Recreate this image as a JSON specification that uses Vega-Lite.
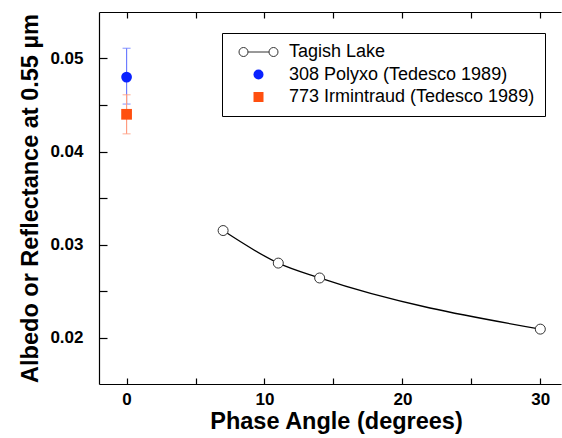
{
  "$schema": "https://vega.github.io/schema/vega-lite/v6.json",
  "autosize": "none",
  "width": 462,
  "height": 372,
  "padding": {"left": 99, "top": 12, "right": 1, "bottom": 54},
  "background": "white",
  "config": {
    "view": {"stroke": null},
    "font": "Liberation Sans",
    "axis": {
      "domainColor": "black",
      "domainWidth": 1.2,
      "tickColor": "black",
      "tickWidth": 1.2,
      "grid": false,
      "labelFont": "Liberation Sans",
      "labelFontWeight": "bold",
      "labelFontSize": 17,
      "labelColor": "black",
      "titleFont": "Liberation Sans",
      "titleFontWeight": "bold",
      "titleFontSize": 23.5,
      "titleColor": "black"
    },
    "legend": {"symbolOpacity": 1}
  },
  "datasets": {
    "tagish": [
      {"phase": 7, "albedo": 0.0315},
      {"phase": 11, "albedo": 0.028},
      {"phase": 14, "albedo": 0.0264},
      {"phase": 30, "albedo": 0.0209}
    ],
    "asteroids": [
      {"series": "308 Polyxo (Tedesco 1989)", "phase": 0, "albedo": 0.048, "lo": 0.0451, "hi": 0.0511},
      {"series": "773 Irmintraud (Tedesco 1989)", "phase": 0, "albedo": 0.044, "lo": 0.0419, "hi": 0.0461}
    ]
  },
  "resolve": {"axis": {"x": "independent", "y": "independent"}},
  "layer": [
    {
      "data": {"name": "tagish"},
      "mark": {"type": "line", "color": "black", "strokeWidth": 1.3, "interpolate": "monotone"},
      "encoding": {
        "x": {
          "field": "phase", "type": "quantitative",
          "scale": {"domain": [-2, 31.5], "nice": false, "zero": false},
          "axis": {
            "orient": "bottom",
            "title": "Phase Angle (degrees)",
            "values": [0, 5, 10, 15, 20, 25, 30],
            "labelExpr": "datum.value % 10 == 0 ? datum.label : ''",
            "tickSize": -6,
            "labelPadding": 13,
            "titlePadding": 2,
            "titleX": 237
          }
        },
        "y": {
          "field": "albedo", "type": "quantitative",
          "scale": {"domain": [0.015, 0.055], "nice": false, "zero": false},
          "axis": {
            "orient": "left",
            "title": "Albedo or Reflectance at 0.55 µm",
            "values": [0.02, 0.025, 0.03, 0.035, 0.04, 0.045, 0.05],
            "labelExpr": "round(datum.value * 1000) % 10 == 0 ? format(datum.value, '.2f') : ''",
            "tickSize": -8,
            "labelPadding": 24,
            "titlePadding": 7
          }
        }
      }
    },
    {
      "data": {"name": "tagish"},
      "mark": {"type": "point", "shape": "circle", "filled": true, "fill": "white", "stroke": "#333333", "strokeWidth": 1, "size": 100, "opacity": 1},
      "encoding": {
        "x": {
          "field": "phase", "type": "quantitative",
          "axis": {
            "orient": "top",
            "title": null,
            "labels": false,
            "values": [0, 5, 10, 15, 20, 25, 30],
            "tickSize": -6
          }
        },
        "y": {"field": "albedo", "type": "quantitative", "axis": null}
      }
    },
    {
      "data": {"name": "asteroids"},
      "transform": [{"filter": "datum.series == '308 Polyxo (Tedesco 1989)'"}],
      "mark": {"type": "errorbar", "ticks": {"size": 8, "color": "#6d7dff"}, "color": "#6d7dff", "thickness": 1.2},
      "encoding": {
        "x": {"field": "phase", "type": "quantitative", "axis": null},
        "y": {"field": "lo", "type": "quantitative", "axis": null},
        "y2": {"field": "hi"}
      }
    },
    {
      "data": {"name": "asteroids"},
      "transform": [{"filter": "datum.series == '773 Irmintraud (Tedesco 1989)'"}],
      "mark": {"type": "errorbar", "ticks": {"size": 8, "color": "#ff9c80"}, "color": "#ff9c80", "thickness": 1.2},
      "encoding": {
        "x": {"field": "phase", "type": "quantitative", "axis": null},
        "y": {"field": "lo", "type": "quantitative", "axis": null},
        "y2": {"field": "hi"}
      }
    },
    {
      "data": {"name": "asteroids"},
      "mark": {"type": "point", "filled": true, "size": 115, "opacity": 1, "strokeWidth": 1},
      "encoding": {
        "x": {"field": "phase", "type": "quantitative", "axis": null},
        "y": {"field": "albedo", "type": "quantitative", "axis": null},
        "fill": {
          "field": "series", "type": "nominal",
          "scale": {
            "domain": ["Tagish Lake", "308 Polyxo (Tedesco 1989)", "773 Irmintraud (Tedesco 1989)"],
            "range": ["white", "#0a22ff", "#ff4f0f"]
          },
          "legend": {
            "title": null,
            "orient": "none",
            "legendX": 123,
            "legendY": 21,
            "padding": 10,
            "strokeColor": "black",
            "fillColor": "white",
            "symbolSize": 100,
            "symbolStrokeWidth": 1,
            "symbolOffset": 17.5,
            "labelOffset": 21.5,
            "rowPadding": 4.5,
            "labelFont": "Liberation Sans",
            "labelFontSize": 18,
            "labelColor": "black",
            "labelLimit": 400,
            "labelExpr": "datum.label + '\u00a0\u00a0'"
          }
        },
        "stroke": {
          "field": "series", "type": "nominal",
          "scale": {
            "domain": ["Tagish Lake", "308 Polyxo (Tedesco 1989)", "773 Irmintraud (Tedesco 1989)"],
            "range": ["#333333", "transparent", "transparent"]
          }
        },
        "shape": {
          "field": "series", "type": "nominal",
          "scale": {
            "domain": ["Tagish Lake", "308 Polyxo (Tedesco 1989)", "773 Irmintraud (Tedesco 1989)"],
            "range": ["M-2.1,0A0.9,0.9 0 1,1 -3.9,0A0.9,0.9 0 1,1 -2.1,0M-2.1,0L2.1,0M3.9,0A0.9,0.9 0 1,1 2.1,0A0.9,0.9 0 1,1 3.9,0", "circle", "square"]
          }
        }
      }
    }
  ]
}
